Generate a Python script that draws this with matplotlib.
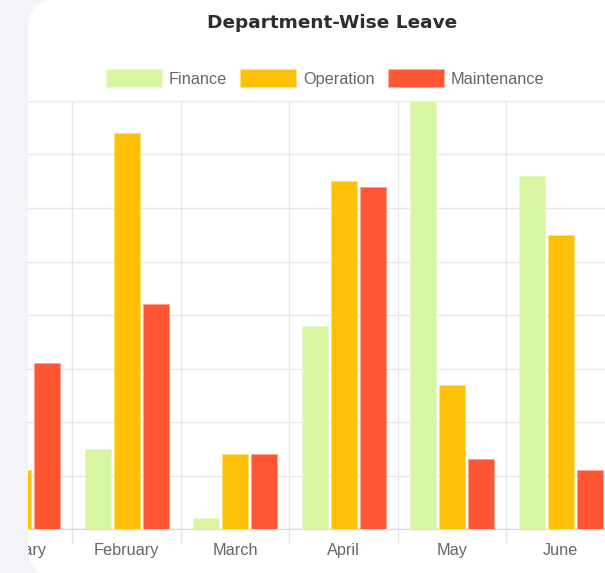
import numpy as np
import matplotlib
matplotlib.use("Agg")
import matplotlib.pyplot as plt
from matplotlib.path import Path
from matplotlib.patches import PathPatch, Rectangle
from matplotlib.colors import to_rgb

# data (leave counts per department)
months = ["January", "February", "March", "April", "May", "June"]
finance = [20, 15, 2, 38, 80, 66]
operation = [11, 74, 14, 65, 27, 55]
maintenance = [31, 42, 14, 64, 13, 11]
series = ["Finance", "Operation", "Maintenance"]
colors = ["#d8f5a2", "#ffc107", "#ff5733"]

W, H = 605, 573
plt.rcParams["font.family"] = ["Liberation Sans", "DejaVu Sans"]

fig = plt.figure(figsize=(W / 100, H / 100), dpi=100, facecolor="white")


def lighter(c, f=0.45):
    r, g, b = to_rgb(c)
    return (r + (1 - r) * f, g + (1 - g) * f, b + (1 - b) * f)


# plot area in pixels; the card cuts the left part of the chart off,
# so the axes start left of the picture and the overlay hides that part
cat_w, x0_px = 108.55, 18
left, right, top, bottom = x0_px - 0.5 * cat_w, 605, 101, 529
ax = fig.add_axes([left / W, (H - bottom) / H, (right - left) / W, (bottom - top) / H])
ax.set_facecolor("none")

x = np.arange(len(months))
step, bw = 0.267, 0.24
for k, (vals, c) in enumerate(zip([finance, operation, maintenance], colors)):
    ax.bar(x + (k - 1) * step, vals, width=bw, color=c,
           edgecolor=lighter(c), linewidth=0.7, zorder=3)

ax.set_yticks(np.arange(0, 81, 10))
ax.set_xticks(x)
ax.set_xticklabels(months, fontsize=11.7, color="#666666")
ax.set_xticks(x[:-1] + 0.5, minor=True)
ax.set_ylim(0, 80)
ax.set_xlim(-0.5, (right - x0_px) / cat_w)

ax.tick_params(axis="x", which="major", length=0, pad=10)
ax.tick_params(axis="x", which="minor", length=10, width=1.0, color="#e4e4e4")
ax.tick_params(axis="y", length=0, labelleft=False)

ax.grid(axis="y", color="#e8e8e8", linewidth=1.0, zorder=0)
ax.grid(axis="x", which="minor", color="#e8e8e8", linewidth=1.0, zorder=0)
for s in ["top", "right", "left"]:
    ax.spines[s].set_visible(False)
ax.spines["bottom"].set_color("#dcdcdc")
ax.spines["bottom"].set_linewidth(1.0)
ax.set_axisbelow(True)

# overlay in pixel coordinates: page background around the card, title, legend
ov = fig.add_axes([0, 0, 1, 1], zorder=10)
ov.set_xlim(0, W)
ov.set_ylim(H, 0)
ov.axis("off")
ov.set_facecolor("none")


def rounded_rect(x0, y0, x1, y1, r, n=20):
    pts = []
    corners = [(x0 + r, y0 + r, 180, 270), (x1 - r, y0 + r, 270, 360),
               (x1 - r, y1 - r, 0, 90), (x0 + r, y1 - r, 90, 180)]
    for cx, cy, a0, a1 in corners:
        t = np.radians(np.linspace(a0, a1, n))
        pts += list(zip(cx + r * np.cos(t), cy + r * np.sin(t)))
    return pts


outer = [(-10, -10), (-10, H + 20), (W + 40, H + 20), (W + 40, -10)]
inner = rounded_rect(28, 0, W + 30, 576, 25)
verts, codes = [], []
for poly in (outer, inner):
    verts += poly + [poly[0]]
    codes += [Path.MOVETO] + [Path.LINETO] * (len(poly) - 1) + [Path.CLOSEPOLY]
ov.add_patch(PathPatch(Path(verts, codes), facecolor="#f2f4f7", edgecolor="none"))

ov.text(332.5, 27.5, "Department-Wise Leave", ha="center", va="baseline",
        fontsize=13.3, fontweight="bold", color="#2e2e2e", family="DejaVu Sans")

box_x = [106, 240, 388]
for bx, name, c in zip(box_x, series, colors):
    ov.add_patch(Rectangle((bx, 69), 56, 18, facecolor=c, edgecolor=lighter(c, 0.5), linewidth=0.8))
    ov.text(bx + 63, 84, name, ha="left", va="baseline", fontsize=11.7, color="#666666")

fig.savefig("out.png", dpi=100, facecolor=fig.get_facecolor())
